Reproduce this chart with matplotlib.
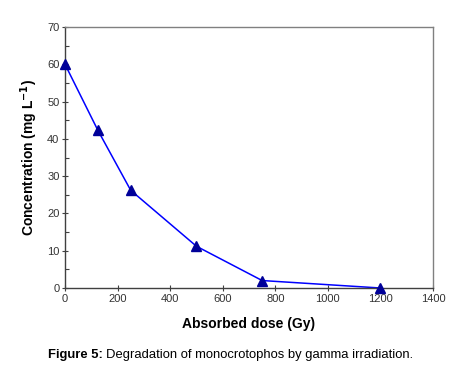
import matplotlib
matplotlib.use('Agg')
import matplotlib.pyplot as plt
from matplotlib.ticker import MultipleLocator

# data
dose_gy = [0, 125, 250, 500, 750, 1200]
conc_mg_l = [60.0, 42.3, 26.2, 11.2, 2.0, 0.0]

x_ticks = [0, 200, 400, 600, 800, 1000, 1200, 1400]
y_ticks = [0, 10, 20, 30, 40, 50, 60, 70]

plt.rcParams['font.family'] = ['Liberation Sans', 'DejaVu Sans']

fig = plt.figure(figsize=(4.52, 3.72), dpi=100)
ax = fig.add_axes([0.1438, 0.2258, 0.8142, 0.7016])

ax.plot(dose_gy, conc_mg_l, color='#0000ff', linewidth=1.1, zorder=2)
ax.plot(dose_gy, conc_mg_l, linestyle='none', marker='^', markersize=7,
        markerfacecolor='#000099', markeredgecolor='#000099', zorder=3, clip_on=False)

ax.set_xlim(0, 1400)
ax.set_ylim(0, 70)
ax.set_xticks(x_ticks)
ax.set_yticks(y_ticks)
ax.yaxis.set_minor_locator(MultipleLocator(5))

for s in ax.spines.values():
    s.set_color('#808080')
    s.set_linewidth(1.0)
ax.spines['left'].set_color('#404040')
ax.spines['bottom'].set_color('#404040')

ax.tick_params(axis='both', which='major', labelsize=8, colors='#404040',
               labelcolor='#333333', direction='inout', length=4, width=0.8, pad=2)
ax.tick_params(axis='y', which='minor', direction='in', length=3, width=0.8, colors='#404040')

ax.set_xlabel('Absorbed dose (Gy)', fontsize=10, fontweight='bold', labelpad=10)
ax.set_ylabel('Concentration (mg L$^{\\mathbf{-1}}$)', fontsize=10, fontweight='bold', labelpad=5)

# caption: bold prefix followed directly by normal text
t1 = fig.text(48 / 452, 0.045, 'Figure 5:', fontsize=9.4, fontweight='bold', ha='left', va='center')
fig.canvas.draw()
bb = t1.get_window_extent(fig.canvas.get_renderer())
x2 = (bb.x1 + 3) / fig.bbox.width
fig.text(x2, 0.045, 'Degradation of monocrotophos by gamma irradiation.', fontsize=9.4,
         ha='left', va='center')

fig.savefig('out.png', dpi=100)
